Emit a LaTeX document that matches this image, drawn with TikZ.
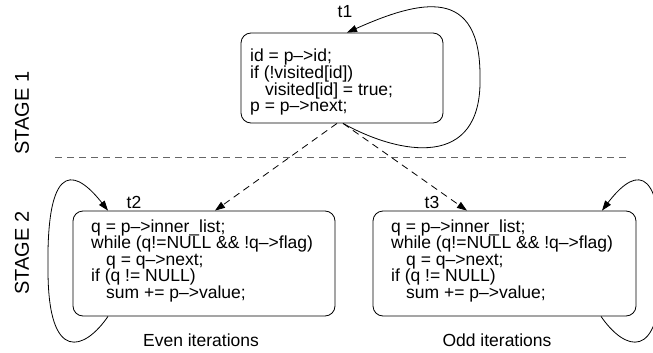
\documentclass[tikz,border=0pt]{standalone}
\usepackage{fontspec}
\setmainfont{Liberation Sans}
\usetikzlibrary{arrows.meta}
\newcommand\codeln[1]{\hbox{#1}}
\newcommand\codeind{\hskip 15pt}
\begin{document}
\begin{tikzpicture}[x=1pt,y=-1pt,
  box/.style={draw=black,line width=0.8pt,rounded corners=10pt,inner sep=0pt},
  code/.style={anchor=base west,inner sep=0pt,font=\fontsize{17.5}{16.6}\selectfont},
  lbl/.style={inner sep=0pt,font=\fontsize{17.5}{20}\selectfont},
  stage/.style={inner sep=0pt,rotate=90,font=\fontsize{20}{24}\selectfont},
  loop/.style={line width=0.8pt,-{Triangle[length=10pt,width=7pt]}},
  flow/.style={line width=0.8pt,dash pattern=on 7pt off 5pt,-{Triangle[length=10pt,width=7pt]}},
  sep/.style={draw=black!60,line width=1pt,dash pattern=on 7pt off 5pt}]
\useasboundingbox (0,0) rectangle (653,353);

% stage labels and the separator between them
\node[stage] (st1) at (22,113) {STAGE 1};
\node[stage] (st2) at (22,253) {STAGE 2};
\coordinate (sepL) at (55,157);
\coordinate (sepR) at (628,157);
\draw[sep] (sepL) -- (sepR);

% the three tasks
\node[box,minimum width=202pt,minimum height=90pt] (box1) at (342,78) {};
\node[box,minimum width=262pt,minimum height=105pt] (box2) at (204,263.5) {};
\node[box,minimum width=263pt,minimum height=105pt] (box3) at (504.5,263.5) {};

\node[code] (code1) at (250,62) {\vtop{\baselineskip=16.6pt\lineskiplimit=-20pt
  \codeln{id = p–>id;}
  \codeln{if (!visited[id])}
  \codeln{\codeind visited[id] = true;}
  \codeln{p = p–>next;}}};
\node[code] (code2) at (91,232) {\vtop{\baselineskip=16.6pt\lineskiplimit=-20pt
  \codeln{q = p–>inner\_list;}
  \codeln{while (q!=NULL \&\& !q–>flag)}
  \codeln{\codeind q = q–>next;}
  \codeln{if (q != NULL)}
  \codeln{\codeind sum += p–>value;}}};
\node[code] (code3) at (391,232) {\vtop{\baselineskip=16.6pt\lineskiplimit=-20pt
  \codeln{q = p–>inner\_list;}
  \codeln{while (q!=NULL \&\& !q–>flag)}
  \codeln{\codeind q = q–>next;}
  \codeln{if (q != NULL)}
  \codeln{\codeind sum += p–>value;}}};

% task names and captions
\node[lbl] (t1) at (345,12) {t1};
\node[lbl] (t2) at (134,202) {t2};
\node[lbl] (t3) at (432,202) {t3};
\node[lbl,anchor=base] (even) at (201,346) {Even iterations};
\node[lbl,anchor=base] (odd) at (497,346) {Odd iterations};

% self loops
\coordinate (r1) at (480,78);
\draw[loop] ([xshift=1pt]box1.south) .. controls (400,155) and (482,170) .. (r1)
  .. controls (481,-15) and (420,0) .. ([xshift=5pt]box1.north);
\coordinate (r2) at (48,270);
\draw[loop] ([xshift=-96pt]box2.south) .. controls (85,350) and (48,365) .. (r2)
  .. controls (46,150) and (80,175) .. ([xshift=-96pt]box2.north);
\coordinate (r3) at (661,270);
\draw[loop] ([xshift=96.5pt]box3.south) .. controls (624,350) and (661,365) .. (r3)
  .. controls (663,150) and (629,175) .. ([xshift=97.5pt]box3.north);

% hand-off to the second stage
\draw[flow] ([xshift=-5pt]box1.south) -- ([xshift=11pt]box2.north);
\draw[flow] ([xshift=1pt]box1.south) -- ([xshift=-37.5pt]box3.north);
\end{tikzpicture}
\end{document}
